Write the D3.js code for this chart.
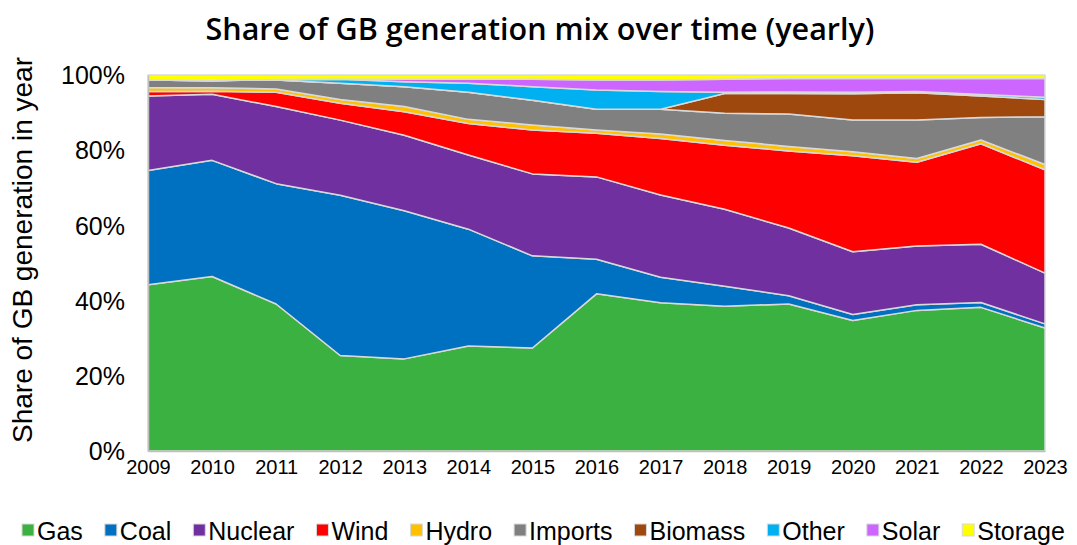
<!DOCTYPE html>
<html>
<head>
<meta charset="utf-8">
<script src="https://cdn.jsdelivr.net/npm/d3@7"></script>
<style>
  body { margin: 0; background: #fff; }
  text { font-family: "Liberation Sans", Arial, sans-serif; fill: #000; }
</style>
</head>
<body>
<div id="chart"></div>
<script>
// Years on the x axis
const years = [2009, 2010, 2011, 2012, 2013, 2014, 2015, 2016, 2017, 2018, 2019, 2020, 2021, 2022, 2023];

// Share of generation (%) per source
const gas     = [44.2, 46.4, 39.1, 25.4, 24.5, 27.9, 27.4, 41.8, 39.4, 38.5, 39.1, 34.7, 37.4, 38.2, 32.7];
const coal    = [30.4, 30.9, 32.0, 42.6, 39.4, 31.1, 24.5,  9.2,  6.8,  5.3,  2.2,  1.6,  1.5,  1.3,  1.1];
const nuclear = [19.8, 17.6, 20.5, 20.0, 20.1, 19.7, 21.8, 21.9, 21.9, 20.5, 18.0, 16.7, 15.6, 15.5, 13.5];
const wind    = [ 1.2,  0.8,  3.8,  4.5,  6.2,  8.4, 11.7, 11.6, 15.0, 17.0, 20.5, 25.5, 22.3, 26.7, 27.5];
const hydro   = [ 1.1,  0.9,  0.9,  1.0,  1.4,  1.1,  1.3,  0.9,  1.2,  1.3,  1.2,  1.1,  1.0,  1.0,  1.4];
const imports = [ 2.0,  1.9,  2.4,  4.3,  5.3,  7.2,  6.6,  5.5,  6.6,  7.2,  8.6,  8.4, 10.2,  6.0, 12.7];
const biomass = [ 0.0,  0.0,  0.0,  0.0,  0.0,  0.0,  0.0,  0.0,  0.0,  5.3,  5.5,  7.0,  7.3,  5.7,  4.6];
const other   = [ 0.0,  0.0,  0.1,  1.1,  1.3,  2.4,  3.6,  5.1,  4.7,  0.3,  0.4,  0.4,  0.3,  0.4,  0.6];
const solar   = [ 0.0,  0.0,  0.0,  0.0,  0.7,  1.1,  2.0,  2.7,  3.1,  3.5,  3.6,  3.7,  3.5,  4.3,  5.0];
const storage = [ 1.3,  1.5,  1.2,  1.1,  1.1,  1.1,  1.1,  1.3,  1.3,  1.1,  0.9,  0.9,  0.9,  0.9,  0.9];

const seriesNames = ['Gas', 'Coal', 'Nuclear', 'Wind', 'Hydro', 'Imports', 'Biomass', 'Other', 'Solar', 'Storage'];
const seriesValues = [gas, coal, nuclear, wind, hydro, imports, biomass, other, solar, storage];
const seriesColors = ['#3ab140', '#0070c0', '#7030a0', '#ff0000', '#ffc000', '#808080', '#9e480e', '#00b0f0', '#cc66ff', '#ffff00'];
const yTicks = [0, 20, 40, 60, 80, 100];

const width = 1077;
const height = 545;
const margin = { top: 75, right: 32, bottom: 94, left: 148 };

// rows for d3.stack
const rows = years.map((yr, i) => {
  const row = { year: yr };
  seriesNames.forEach((name, k) => { row[name] = seriesValues[k][i]; });
  return row;
});

const stacked = d3.stack().keys(seriesNames)(rows);

const x = d3.scaleLinear()
  .domain(d3.extent(years))
  .range([margin.left, width - margin.right]);

const y = d3.scaleLinear()
  .domain([0, 100])
  .range([height - margin.bottom, margin.top]);

const color = d3.scaleOrdinal().domain(seriesNames).range(seriesColors);

const svg = d3.select('#chart')
  .append('svg')
  .attr('width', width)
  .attr('height', height);

// title
svg.append('text')
  .attr('x', 540)
  .attr('y', 40)
  .attr('text-anchor', 'middle')
  .style('font-family', '"Open Sans", sans-serif')
  .style('font-weight', 600)
  .style('font-size', '30.5px')
  .text('Share of GB generation mix over time (yearly)');

// areas
const area = d3.area()
  .x(d => x(d.data.year))
  .y0(d => y(d[0]))
  .y1(d => y(d[1]));

svg.append('g')
  .selectAll('path')
  .data(stacked)
  .enter()
  .append('path')
  .attr('d', area)
  .attr('fill', d => color(d.key))
  .attr('stroke', '#d9d9d9')
  .attr('stroke-width', 1.5)
  .attr('stroke-linejoin', 'round');

// y axis
const yAxis = svg.append('g')
  .attr('transform', `translate(${margin.left},0)`)
  .call(d3.axisLeft(y).tickValues(yTicks).tickSize(0).tickPadding(23).tickFormat(d => d + '%'));
yAxis.select('.domain').attr('stroke', '#bfbfbf').attr('stroke-width', 1.5);
yAxis.selectAll('text')
  .style('font-family', '"Liberation Sans", Arial, sans-serif')
  .style('font-size', '25px')
  .attr('dy', '0.35em');

// x axis
const xAxis = svg.append('g')
  .attr('transform', `translate(0,${height - margin.bottom})`)
  .call(d3.axisBottom(x).tickValues(years).tickSize(0).tickPadding(9).tickFormat(d3.format('d')));
xAxis.select('.domain').attr('stroke', '#bfbfbf').attr('stroke-width', 1.5);
xAxis.selectAll('text')
  .style('font-family', '"Liberation Sans", Arial, sans-serif')
  .style('font-size', '20px');

// y axis title
svg.append('text')
  .attr('transform', 'translate(32,250) rotate(-90)')
  .attr('text-anchor', 'middle')
  .style('font-size', '28px')
  .text('Share of GB generation in year');

// legend
const legend = svg.append('g').attr('transform', 'translate(0,531)');
let lx = 22;
seriesNames.forEach((name, i) => {
  const item = legend.append('g').attr('transform', `translate(${lx},0)`);
  item.append('rect')
    .attr('x', 0)
    .attr('y', -7)
    .attr('width', 12)
    .attr('height', 12)
    .attr('fill', seriesColors[i])
    .attr('stroke', '#d9d9d9')
    .attr('stroke-width', 1);
  const t = item.append('text')
    .attr('x', 15)
    .attr('y', 0)
    .attr('dy', '0.35em')
    .style('font-size', '25px')
    .text(name);
  lx += 15 + t.node().getComputedTextLength() + 22;
});
</script>
</body>
</html>
